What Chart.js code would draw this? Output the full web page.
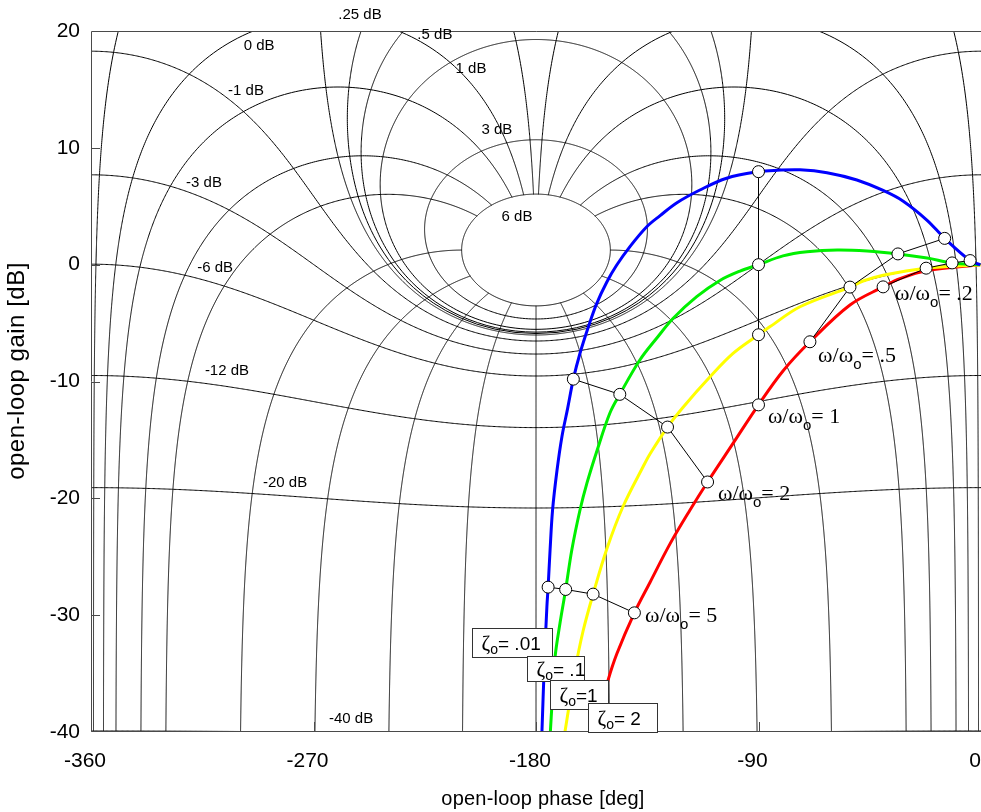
<!DOCTYPE html>
<html lang="en">
<head>
<meta charset="UTF-8">
<title>Nichols chart</title>
<script src="https://cdn.jsdelivr.net/npm/chart.js"></script>
<style>
  html, body { margin: 0; padding: 0; background: #fff; overflow: hidden; }
  #box { position: relative; width: 981px; height: 812px; }
</style>
</head>
<body>
<div id="box"><canvas id="nichols" width="981" height="812"></canvas></div>
<script>
// Nichols grid levels: closed-loop gain [dB] and closed-loop phase [deg]
const mLevels = [6, 3, 1, 0.5, 0.25, 0, -1, -3, -6, -12, -20, -40];
const mLabels = ['6 dB', '3 dB', '1 dB', '.5 dB', '.25 dB', '0 dB', '-1 dB', '-3 dB', '-6 dB', '-12 dB', '-20 dB', '-40 dB'];
const nLevels = [1, 5, 10, 20, 30, 60, 90, 120, 150, 180, -150, -120, -90, -60, -30, -20, -10, -5, -1];

// open-loop responses: phase [deg], gain [dB]
const phaseZeta001 = [-177.6, -176.6, -175.6, -175.1, -174.3, -173.3, -171.5, -169.5, -167.2, -164.9, -162.2, -158.8, -155.5, -151.4, -147.4, -142.0, -135.2, -129.8, -123.0, -113.7, -102.9, -90, -82.5, -73.2, -62.3, -50.2, -39.6, -31.6, -21.8, -14.7, -4.4, -0.3];
const gainZeta001  = [-40, -34.0, -29.3, -27.6, -24.4, -21.0, -17.6, -14.7, -12.3, -9.8, -7.58, -5.31, -3.35, -1.5, -0.05, 1.55, 3.25, 4.2, 5.3, 6.39, 7.40, 7.96, 8.08, 8.12, 7.87, 7.25, 6.35, 5.45, 3.8, 2.25, 0.35, 0.0];

const phaseZeta01 = [-174.2, -173.5, -172.3, -170.3, -168.0, -165.5, -162.2, -159.4, -155.3, -150.1, -146.1, -138.0, -131.2, -124.5, -115.0, -105.6, -97.5, -90, -80.1, -70.4, -58.2, -46.1, -33.6, -21.8, -11.7, -0.3];
const gainZeta01  = [-40, -37.5, -33.6, -30.7, -27.8, -24.4, -21.0, -18.7, -15.9, -12.7, -11.1, -8.16, -6.3, -4.59, -2.74, -1.35, -0.55, 0.0, 0.75, 1.1, 1.26, 1.17, 0.92, 0.57, 0.15, 0.0];

const phaseZeta1 = [-168.3, -164.3, -161.0, -156.9, -151.3, -144.8, -136.7, -133.9, -126.8, -120.5, -109.6, -100.3, -90, -85.3, -73.2, -53.0, -47.7, -39.6, -22.2, -0.3];
const gainZeta1  = [-40, -34.8, -31.4, -28.2, -24.3, -20.7, -17.3, -16.2, -13.9, -12.2, -9.6, -7.6, -6.0, -5.3, -3.6, -1.92, -1.4, -0.9, -0.3, 0.0];

const phaseZeta2 = [-156.5, -150.9, -147.3, -140.2, -133.9, -125.8, -117.7, -110.6, -100.3, -90, -80.1, -69.2, -53.0, -39.6, -32.8, -21.8, -0.3];
const gainZeta2  = [-40, -35.6, -33.3, -29.8, -27.2, -23.9, -21.0, -18.6, -15.3, -12.0, -9.1, -6.6, -3.45, -1.9, -1.2, -0.5, 0.0];

// points of equal ω/ωo, one per curve (ζo = .01, .1, 1, 2)
const ratioLabels = ['.2', '.5', '1', '2', '5'];
const markPhase02 = [-4.4, -11.7, -22.2, -39.6];
const markGain02  = [0.35, 0.15, -0.3, -1.9];
const markPhase05 = [-14.7, -33.6, -53.0, -69.2];
const markGain05  = [2.25, 0.92, -1.92, -6.6];
const markPhase1  = [-90, -90, -90, -90];
const markGain1   = [7.96, 0.0, -6.0, -12.0];
const markPhase2  = [-164.9, -146.1, -126.8, -110.6];
const markGain2   = [-9.8, -11.1, -13.9, -18.6];
const markPhase5  = [-175.1, -168.0, -156.9, -140.2];
const markGain5   = [-27.6, -27.8, -28.2, -29.8];

const zetaLabels = ['= .01', '= .1', '=1', '= 2'];

const pairs = (ph, db) => ph.map((p, i) => ({ x: p, y: db[i] }));

// --- Nichols grid geometry --------------------------------------------
function toNichols(re, im) {
  let ph = Math.atan2(im, re) * 180 / Math.PI;
  if (ph > 0) ph -= 360;
  return [ph, 20 * Math.log10(Math.hypot(re, im))];
}

function gainContour(db) {
  const M = Math.pow(10, db / 20), M2 = M * M, pts = [];
  if (M > 1) {
    const c = -M2 / (M2 - 1), r = M / (M2 - 1);
    for (let k = 0; k <= 1440; k++) {
      const th = k / 1440 * 2 * Math.PI;
      pts.push(toNichols(c + r * Math.cos(th), r * Math.sin(th)));
    }
  } else if (M === 1) {
    for (let ph = -269.9; ph <= -90.1; ph += 0.1) {
      pts.push([ph, 20 * Math.log10(-1 / (2 * Math.cos(ph * Math.PI / 180)))]);
    }
  } else {
    for (let ph = -360; ph <= 0; ph += 0.5) {
      const cs = Math.cos(ph * Math.PI / 180);
      const g = (M2 * cs + M * Math.sqrt(M2 * cs * cs + 1 - M2)) / (1 - M2);
      pts.push([ph, 20 * Math.log10(g)]);
    }
  }
  return pts;
}

// closed-loop phase line, stopped at the 6 dB contour (|T| = 2)
function phaseContour(psi) {
  const p = psi * Math.PI / 180, pts = [];
  const n = 1600, lo = -3, hi = Math.log10(2);
  for (let k = 0; k <= n; k++) {
    const t = Math.pow(10, lo + (hi - lo) * k / n);
    const tr = t * Math.cos(p), ti = t * Math.sin(p);
    const dr = 1 - tr, di = -ti, den = dr * dr + di * di;
    pts.push(toNichols((tr * dr + ti * di) / den, (ti * dr - tr * di) / den));
  }
  return pts;
}

const nicholsGrid = {
  id: 'nicholsGrid',
  beforeDatasetsDraw(chart) {
    const { ctx, chartArea: a, scales: { x, y } } = chart;
    ctx.save();
    ctx.beginPath();
    ctx.rect(a.left, a.top, a.right - a.left, a.bottom - a.top);
    ctx.clip();
    ctx.lineWidth = 1;
    ctx.strokeStyle = '#000';
    const trace = pts => {
      ctx.beginPath();
      let pen = false;
      for (const [ph, db] of pts) {
        if (!isFinite(db)) { pen = false; continue; }
        const px = x.getPixelForValue(ph);
        const py = y.getPixelForValue(Math.max(-90, Math.min(60, db)));
        if (pen) ctx.lineTo(px, py); else ctx.moveTo(px, py);
        pen = true;
      }
      ctx.stroke();
    };
    mLevels.forEach(db => trace(gainContour(db)));
    nLevels.forEach(ps => trace(phaseContour(ps)));
    ctx.restore();
  }
};

// --- labels, frame and titles -----------------------------------------
const mLabelPos = [
  [-187.7, 4.08], [-195.8, 11.53], [-206.3, 16.75], [-220.9, 19.66], [-251.2, 21.37], [-292.0, 18.72],
  [-297.3, 14.87], [-314.3, 7.0], [-309.8, -0.28], [-305.0, -9.09], [-281.5, -18.68], [-254.8, -38.88]
];
const ratioLabelPos = [[-34.8, -3.03], [-65.9, -8.33], [-86.2, -13.55], [-106.4, -20.14], [-135.9, -30.58]];
const zetaBoxes = [
  { ph: -205.9, db: -31.1, w: 80, h: 29 },
  { ph: -183.6, db: -33.5, w: 57, h: 25 },
  { ph: -174.3, db: -35.55, w: 58, h: 29 },
  { ph: -159.0, db: -37.52, w: 69, h: 29 }
];

const SANS = '"Liberation Sans", Arial, sans-serif';
const SERIF = '"Liberation Serif", "Times New Roman", serif';

const overlay = {
  id: 'overlay',
  afterDatasetsDraw(chart) {
    const { ctx, chartArea: a, scales: { x, y } } = chart;
    ctx.save();

    // frame and inward ticks
    ctx.strokeStyle = '#4a4a4a';
    ctx.lineWidth = 1;
    ctx.beginPath();
    ctx.moveTo(a.right, a.top + 0.5); ctx.lineTo(a.left + 0.5, a.top + 0.5);
    ctx.lineTo(a.left + 0.5, a.bottom - 0.5); ctx.lineTo(a.right, a.bottom - 0.5);
    y.ticks.forEach(t => {
      if (t.value <= y.min || t.value >= y.max) return;
      const py = Math.round(y.getPixelForValue(t.value)) + 0.5;
      ctx.moveTo(a.left, py); ctx.lineTo(a.left + 9, py);
    });
    x.ticks.forEach(t => {
      if (t.value <= x.min || t.value >= x.max) return;
      const px = Math.round(x.getPixelForValue(t.value)) + 0.5;
      ctx.moveTo(px, a.bottom); ctx.lineTo(px, a.bottom - 10);
    });
    ctx.stroke();

    // contour labels
    ctx.fillStyle = '#000';
    ctx.font = '15px ' + SANS;
    ctx.textAlign = 'center';
    ctx.textBaseline = 'middle';
    mLabels.forEach((txt, i) => {
      const [ph, db] = mLabelPos[i];
      ctx.fillText(txt, x.getPixelForValue(ph), y.getPixelForValue(db));
    });

    // ω/ωo labels
    ctx.textAlign = 'left';
    ctx.textBaseline = 'alphabetic';
    ratioLabels.forEach((r, i) => {
      let px = x.getPixelForValue(ratioLabelPos[i][0]);
      const py = y.getPixelForValue(ratioLabelPos[i][1]);
      ctx.font = '22px ' + SERIF;
      ctx.fillText('ω/ω', px, py);
      px += ctx.measureText('ω/ω').width;
      ctx.font = '15px ' + SANS;
      ctx.fillText('o', px, py + 7);
      px += ctx.measureText('o').width;
      ctx.font = '22px ' + SERIF;
      ctx.fillText('= ' + r, px, py);
    });

    // ζo boxes
    zetaBoxes.forEach((b, i) => {
      const bx = Math.round(x.getPixelForValue(b.ph)) + 0.5;
      const by = Math.round(y.getPixelForValue(b.db)) + 0.5;
      ctx.fillStyle = '#fff';
      ctx.fillRect(bx, by, b.w, b.h);
      ctx.strokeStyle = '#333';
      ctx.strokeRect(bx, by, b.w, b.h);
      ctx.fillStyle = '#000';
      let px = bx + 9;
      const py = by + b.h / 2 + 7;
      ctx.font = '21px ' + SERIF;
      ctx.fillText('ζ', px, py);
      px += ctx.measureText('ζ').width;
      ctx.font = '14px ' + SANS;
      ctx.fillText('o', px, py + 4);
      px += ctx.measureText('o').width;
      ctx.font = '19px ' + SANS;
      ctx.fillText(zetaLabels[i], px, py);
    });

    // axis titles
    ctx.font = '20px ' + SANS;
    ctx.letterSpacing = '0.2px';
    ctx.textAlign = 'center';
    ctx.fillText('open-loop phase [deg]', 543, 805);
    ctx.save();
    ctx.translate(24, 371);
    ctx.rotate(-Math.PI / 2);
    ctx.font = '24px ' + SANS;
    ctx.letterSpacing = '0.5px';
    ctx.fillText('open-loop gain [dB]', 0, 0);
    ctx.restore();

    ctx.restore();
  }
};

// --- datasets ------------------------------------------------------------
const markerSet = (ph, db) => ({
  data: pairs(ph, db),
  showLine: true,
  borderColor: '#000',
  borderWidth: 1,
  pointRadius: 6,
  pointBackgroundColor: '#fff',
  pointBorderColor: '#000',
  pointBorderWidth: 1,
  tension: 0
});
const curveSet = (ph, db, color) => ({
  data: pairs(ph, db),
  showLine: true,
  borderColor: color,
  borderWidth: 3,
  pointRadius: 0,
  tension: 0.35
});

new Chart(document.getElementById('nichols'), {
  type: 'scatter',
  data: {
    datasets: [
      markerSet(markPhase02, markGain02),
      markerSet(markPhase05, markGain05),
      markerSet(markPhase1, markGain1),
      markerSet(markPhase2, markGain2),
      markerSet(markPhase5, markGain5),
      curveSet(phaseZeta001, gainZeta001, '#0000ff'),
      curveSet(phaseZeta01, gainZeta01, '#00f000'),
      curveSet(phaseZeta1, gainZeta1, '#ffff00'),
      curveSet(phaseZeta2, gainZeta2, '#ff0000')
    ]
  },
  options: {
    responsive: false,
    animation: false,
    devicePixelRatio: 1,
    layout: { autoPadding: false, padding: { top: 31, right: 0, bottom: 0, left: 0 } },
    plugins: { legend: { display: false }, tooltip: { enabled: false } },
    scales: {
      x: {
        type: 'linear', min: -360, max: 0,
        afterFit: s => { s.height = 80; s.paddingLeft = 0; s.paddingRight = 0; },
        ticks: { stepSize: 90, padding: 17, labelOffset: -6, color: '#000', maxRotation: 0,
                 font: { family: SANS, size: 21 } },
        grid: { display: false, drawTicks: false },
        border: { display: false }
      },
      y: {
        type: 'linear', min: -40, max: 20,
        afterFit: s => { s.width = 91; s.paddingTop = 0; s.paddingBottom = 0; },
        ticks: { stepSize: 10, padding: 11, color: '#000', font: { family: SANS, size: 21 } },
        grid: { display: false, drawTicks: false },
        border: { display: false }
      }
    }
  },
  plugins: [nicholsGrid, overlay]
});
</script>
</body>
</html>
